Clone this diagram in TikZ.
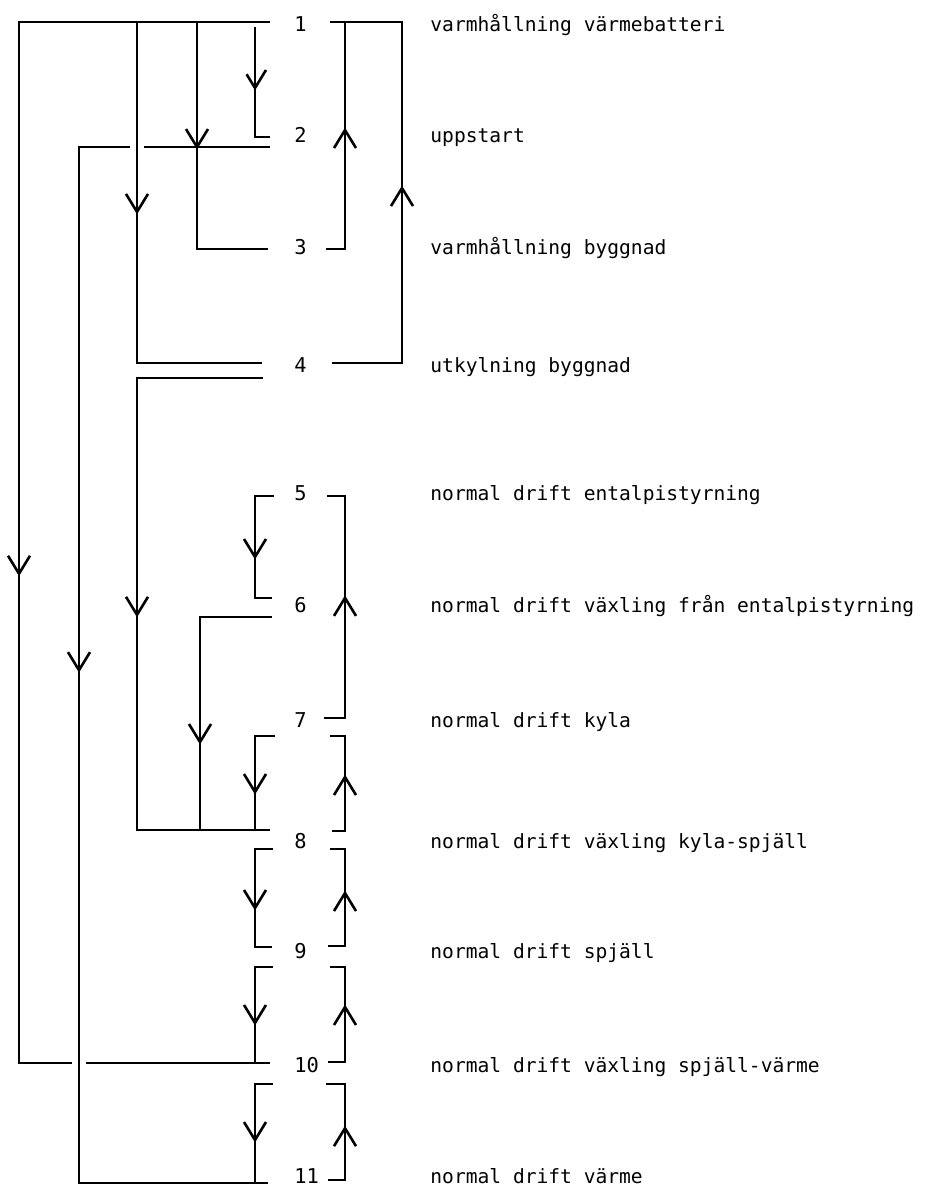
\documentclass[tikz,border=0pt]{standalone}
\usepackage{fontspec}
\setmonofont{DejaVu Sans Mono}
\usetikzlibrary{calc}
\tikzset{
  num/.style={anchor=base west,inner sep=0pt,font=\ttfamily\fontsize{10.2}{12}\selectfont},
  lbl/.style={anchor=base west,inner sep=0pt,font=\ttfamily\fontsize{9.8}{12}\selectfont},
  wire/.style={line width=1.4pt,line join=miter},
  downtip/.pic={\draw[line width=1.3pt,line join=round] (-11,-18) -- (0,0) -- (11,-18);},
  uptip/.pic={\draw[line width=1.3pt,line join=round] (-11,18) -- (0,0) -- (11,18);},
}

\begin{document}
\begin{tikzpicture}[x=0.5pt,y=-0.5pt]
  \useasboundingbox (0,0) rectangle (948,1186);
  %% States: number and text
  \foreach \i/\b/\t in {1/32/varmhållning värmebatteri,
                        2/143/uppstart,
                        3/255/varmhållning byggnad,
                        4/373/utkylning byggnad,
                        5/501/normal drift entalpistyrning,
                        6/612/normal drift växling från entalpistyrning,
                        7/727/normal drift kyla,
                        8/848/normal drift växling kyla-spjäll,
                        9/958/normal drift spjäll,
                        10/1072/normal drift växling spjäll-värme,
                        11/1183/normal drift värme}
  {
    \node[num] (n\i) at (294,\b) {\i};
    \node[lbl] (t\i) at (430,\b) {\t};
  }

  %% Vertical rails
  \coordinate (rA) at (19,0);
  \coordinate (rB) at (79,0);
  \coordinate (rC) at (137,0);
  \coordinate (rD) at (197,0);
  \coordinate (rE) at (200,0);
  \coordinate (rF) at (255,0);
  \coordinate (rG) at (345,0);
  \coordinate (rH) at (402,0);

  %% Ports left (p) and right (q) of the numbers
  \coordinate (p1) at (270,22);    \coordinate (q1) at (330,22);
  \coordinate (p2a) at (270,137);  \coordinate (p2b) at (270,147);
  \coordinate (p3) at (268,249);   \coordinate (q3) at (326,249);
  \coordinate (p4a) at (262,363);  \coordinate (p4b) at (263,378);
  \coordinate (q4) at (332,363);
  \coordinate (p5) at (274,496);   \coordinate (q5) at (327,496);
  \coordinate (p6a) at (272,598);  \coordinate (p6b) at (272,617);
  \coordinate (p7) at (275,736);   \coordinate (q7a) at (324,718);
  \coordinate (q7b) at (330,736);
  \coordinate (p8a) at (270,830);  \coordinate (p8b) at (273,849);
  \coordinate (q8a) at (332,831);  \coordinate (q8b) at (330,849);
  \coordinate (p9a) at (272,947);  \coordinate (p9b) at (273,967);
  \coordinate (q9a) at (328,946);  \coordinate (q9b) at (330,967);
  \coordinate (p10a) at (270,1063); \coordinate (p10b) at (273,1084);
  \coordinate (q10a) at (328,1062); \coordinate (q10b) at (326,1084);
  \coordinate (p11) at (268,1183); \coordinate (q11) at (328,1180);

  %% Left side, downwards
  \draw[wire] (p1) -- (p1 -| rA) -- (p10a -| rA) pic[pos=.53]{downtip}
    -- ($(p10a -| rB)+(-7,0)$) ($(p10a -| rB)+(7,0)$) -- (p10a);
  \draw[wire] (p2b) -- ($(p2b -| rC)+(7,0)$) ($(p2b -| rC)+(-7,0)$)
    -- (p2b -| rB) -- (p11 -| rB) pic[pos=.505]{downtip} -- (p11);
  \draw[wire] (p1) -- (p1 -| rC) -- (p4a -| rC) pic[pos=.557]{downtip} -- (p4a);
  \draw[wire] (p1) -- (p1 -| rD) -- (p3 -| rD) pic[pos=.551]{downtip} -- (p3);
  \draw[wire,shorten <=2.5pt] (p1 -| rF) -- (p2a -| rF) pic[pos=.574]{downtip} -- (p2a);
  \draw[wire] (p4b) -- (p4b -| rC) -- (p8a -| rC) pic[pos=.524]{downtip} -- (p8a);
  \draw[wire] (p5) -- (p5 -| rF) -- (p6a -| rF) pic[pos=.598]{downtip} -- (p6a);
  \draw[wire] (p6b) -- (p6b -| rE) -- (p8a -| rE) pic[pos=.587]{downtip};
  \draw[wire] (p7) -- (p7 -| rF) -- (p8a -| rF) pic[pos=.596]{downtip};
  \draw[wire] (p8b) -- (p8b -| rF) -- (p9a -| rF) pic[pos=.602]{downtip} -- (p9a);
  \draw[wire] (p9b) -- (p9b -| rF) -- (p10a -| rF) pic[pos=.583]{downtip};
  \draw[wire] (p10b) -- (p10b -| rF) -- (p11 -| rF) pic[pos=.566]{downtip};

  %% Right side, upwards
  \draw[wire] (q3) -- (q3 -| rG) -- (q1 -| rG) pic[pos=.524]{uptip};
  \draw[wire] (q4) -- (q4 -| rH) -- (q1 -| rH) pic[pos=.513]{uptip} -- (q1);
  \draw[wire] (q7a) -- (q7a -| rG) -- (q5 -| rG) pic[pos=.541]{uptip} -- (q5);
  \draw[wire] (q8a) -- (q8a -| rG) -- (q7b -| rG) pic[pos=.568]{uptip} -- (q7b);
  \draw[wire] (q9a) -- (q9a -| rG) -- (q8b -| rG) pic[pos=.546]{uptip} -- (q8b);
  \draw[wire] (q10a) -- (q10a -| rG) -- (q9b -| rG) pic[pos=.579]{uptip} -- (q9b);
  \draw[wire] (q11) -- (q11 -| rG) -- (q10b -| rG) pic[pos=.54]{uptip} -- (q10b);
\end{tikzpicture}
\end{document}
